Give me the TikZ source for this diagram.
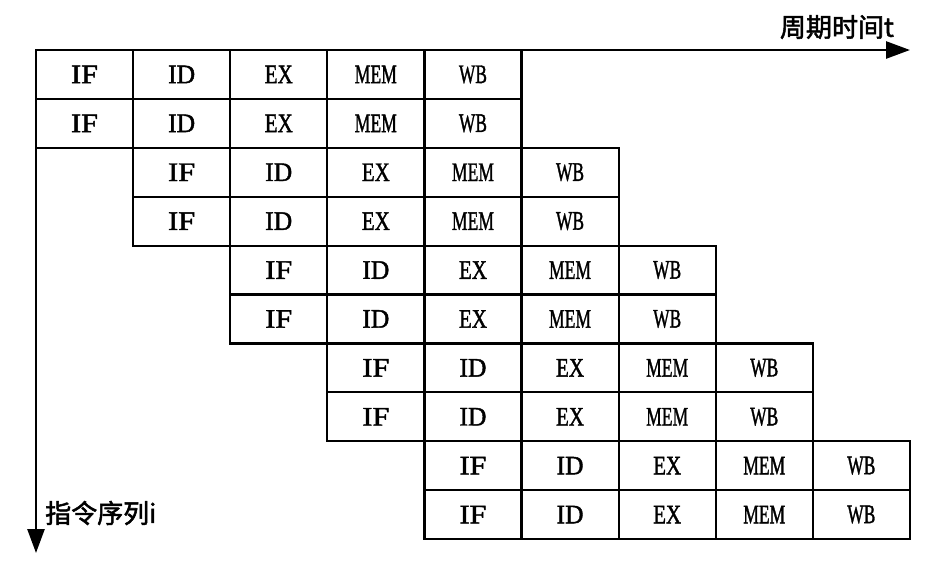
\documentclass[tikz,border=0pt]{standalone}
\usepackage{fontspec}
\setmainfont{Liberation Serif}
\newfontfamily\stgfont{Liberation Serif}[FakeBold=1.6]
\newfontfamily\cjk{Noto Sans CJK SC}[FakeBold=2]
\usetikzlibrary{arrows.meta}
\newcommand{\stg}[2]{\resizebox{#2}{17.5pt}{\stgfont #1}}
\tikzset{
  cell/.style={draw, line width=2.2pt, minimum width=97.1pt, minimum height=48.9pt, inner sep=0pt, anchor=center},
  axis/.style={line width=2.6pt, -{Triangle[length=24pt,width=17pt]}},
  axlabel/.style={font=\cjk\fontsize{26pt}{26pt}\selectfont, inner sep=0pt}
}
\begin{document}
\begin{tikzpicture}[x=1pt,y=-1pt]
\useasboundingbox (0,0) rectangle (936,574);
\foreach \r in {0,...,9}{
  \pgfmathtruncatemacro\s{\r/2}
  \foreach \k/\t/\w in {0/IF/27pt,1/ID/27pt,2/EX/28pt,3/MEM/42pt,4/WB/28pt}{
    \pgfmathsetmacro\xx{36+(\s+\k+0.5)*97.1}
    \pgfmathsetmacro\yy{50+(\r+0.5)*48.9}
    \node[cell] (c\r-\k) at (\xx,\yy) {\stg{\t}{\w}};
  }
}
\coordinate (o) at (36,50);
\coordinate (tend) at (910,50);
\coordinate (iend) at (36,553);
\draw[axis] (o) -- (tend);
\draw[axis] (o) -- (iend);
\node[axlabel, anchor=east] (tl) at (894,27) {周期时间t};
\node[axlabel, anchor=west] (il) at (45,513) {指令序列i};
\end{tikzpicture}
\end{document}
